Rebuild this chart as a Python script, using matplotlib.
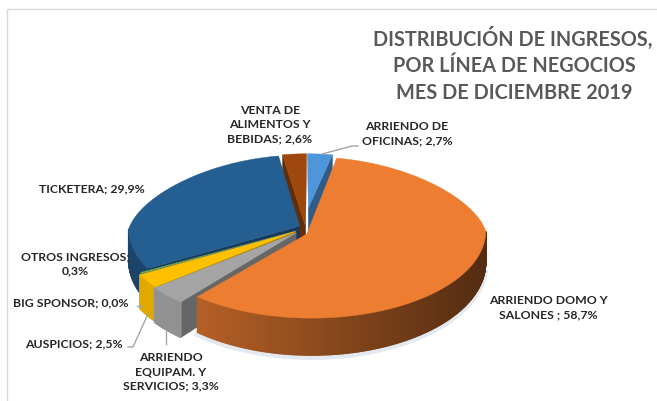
import numpy as np
import matplotlib
matplotlib.use("Agg")
import matplotlib.pyplot as plt
from matplotlib.colors import to_rgb

plt.rcParams['font.family'] = ['Lato', 'DejaVu Sans']

categories = ["ARRIENDO DE\nOFICINAS", "ARRIENDO DOMO Y\nSALONES ", "ARRIENDO\nEQUIPAM. Y\nSERVICIOS",
              "AUSPICIOS", "BIG SPONSOR", "OTROS INGRESOS;\n", "TICKETERA", "VENTA DE\nALIMENTOS Y\nBEBIDAS"]
values = [2.7, 58.7, 3.3, 2.5, 0.0, 0.3, 29.9, 2.6]
colors = ["#4E95D9", "#ED7D31", "#A5A5A5", "#FFC000", "#4472C4", "#70AD47", "#255E91", "#9E480E"]
title_lines = ["DISTRIBUCIÓN DE INGRESOS,", "POR LÍNEA DE NEGOCIOS", "MES DE DICIEMBRE 2019"]

# layout of the fake 3d pie
CX, CY = 307, 231
RX, RY_BACK, RY_FRONT = 174, 74, 87
EXPLODE = 0.03
draw_order = [7, 0, 6, 5, 4, 3, 2, 1]
apex_shift = [(1, -20), (-5, 3), (-7, 1), (-7, 0), (-7, 0), (-7, 0), (-3, -3), (-1, -1)]
rim_scale = [1.0, 1.0, 1.07, 1.06, 1.05, 1.04, 1.0, 1.0]
wall_tone = [0.7, None, 0.88, 0.88, 0.8, 0.8, 0.72, 0.6]


def project(t, r, off):
    # t in degrees, clockwise from 12 o'clock; back of the pie looks narrower
    c = np.cos(np.radians(t))
    ry = np.where(c > 0, RY_BACK, RY_FRONT)
    rx = RX * (1 - 0.15 * np.clip(c, 0, 1))
    return CX + off[0] + r * rx * np.sin(np.radians(t)), CY + off[1] - r * ry * c


def depth(t):
    return 31 + 6 * np.clip(-np.cos(np.radians(t)), 0, 1)


def shade(col, f):
    return tuple(min(1, v * f) for v in to_rgb(col))


def draw_wedge(ax, i, t0, t1, z):
    col = colors[i]
    scale = rim_scale[i]
    mid = (t0 + t1) / 2
    ox, oy = project(mid, EXPLODE, (0, 0))
    off = (ox - CX, oy - CY)
    ts = np.linspace(t0, t1, max(2, int(t1 - t0) * 2 + 2))
    px = CX + off[0] + apex_shift[i][0]
    py = CY + off[1] + apex_shift[i][1]

    # cut faces, only the ones turned to the viewer
    for t, normal in ((t0, t0 - 90), (t1, t1 + 90)):
        if np.cos(np.radians(normal)) < 0:
            x, y = project(t, scale, off)
            ax.fill([px, x, x, px], [py, y, y + depth(t), py + 31],
                    color=shade(col, 0.62), lw=0.3, zorder=z)

    # soft shadow under the big slice
    if i == 1:
        arc = np.linspace(max(t0, 95), t1, 200)
        x, y = project(arc, scale, off)
        ax.plot(x, y + depth(arc) + 2, color="#E3E9F0", lw=4, zorder=1)

    # outer wall, darker to the right
    for a, b in zip(ts[:-1], ts[1:]):
        m = (a + b) / 2
        if not 90 <= m <= 270:
            continue
        x0, y0 = project(a, scale, off)
        x1, y1 = project(b, scale, off)
        f = wall_tone[i] if wall_tone[i] else 0.6 - 0.25 * np.sin(np.radians(m))
        ax.fill([x0, x1, x1, x0], [y0, y1, y1 + depth(b), y0 + depth(a)],
                color=shade(col, f), lw=1.0, zorder=z)

    x, y = project(ts, scale, off)
    ax.fill(np.r_[px, x], np.r_[py, y], color=col, lw=0.3, zorder=z + 0.5)


fig = plt.figure(figsize=(6.57, 4.02), dpi=100)
ax = fig.add_axes([0, 0, 1, 1])
ax.set_xlim(0, 657)
ax.set_ylim(402, 0)
ax.axis('off')

# chart frame
ax.plot([7, 7, 657], [402, 10, 10], color="#D9D9D9", lw=1.0)

edges = np.r_[0, np.cumsum(values)] / sum(values) * 360
for z, i in enumerate(draw_order):
    draw_wedge(ax, i, edges[i], edges[i + 1], 2 + z)

# leader lines
leaders = [([322, 352, 358], [155, 147, 147]),
           ([137, 143], [307, 307]),
           ([128, 133, 148], [348, 348, 315]),
           ([166, 166], [332, 345])]
for lx, ly in leaders:
    ax.plot(lx, ly, color="#A6A6A6", lw=1.0, zorder=20)

for y, xc, line in zip([38, 66, 93], [513, 514, 514], title_lines):
    ax.text(xc, y, line, ha='center', va='center', fontsize=14.3,
            fontweight='bold', color="#595959")

label_pos = [(407, 134), (548, 308), (171, 372), (74, 344),
             (71, 303), (75, 264), (92, 189), (270, 125)]
for i, (x, y) in enumerate(label_pos):
    num = f"{values[i]:.1f}".replace(".", ",") + "%"
    sep = "" if categories[i].endswith("\n") else "; "
    ax.text(x, y, categories[i] + sep + num, ha='center', va='center', fontsize=8.8,
            fontweight='bold', color="#262626", linespacing=1.35, zorder=21)

fig.savefig("out.png", dpi=100)
